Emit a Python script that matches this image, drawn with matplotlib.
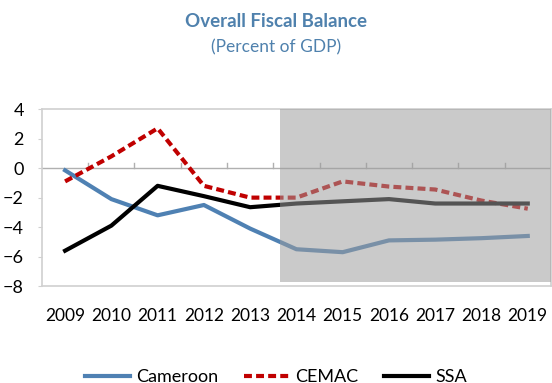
import numpy as np
import matplotlib
matplotlib.use("Agg")
import matplotlib.pyplot as plt
from matplotlib.patches import Rectangle

# --- Data (percent of GDP) ---
years = ["2009", "2010", "2011", "2012", "2013", "2014",
         "2015", "2016", "2017", "2018", "2019"]
cameroon = [-0.15, -2.1, -3.2, -2.5, -4.1, -5.5, -5.7, -4.9, -4.85, -4.75, -4.6]
cemac = [-0.9, 0.8, 2.7, -1.2, -2.0, -2.0, -0.9, -1.25, -1.45, -2.2, -2.75]
ssa = [-5.6, -3.9, -1.2, -1.9, -2.65, -2.4, -2.25, -2.1, -2.4, -2.4, -2.4]

# projection years get a grey shade
shade_start = 4.64
shade_bottom = -7.7

FONT = ["Lato", "DejaVu Sans"]
TITLE_COLOR = "#4F81AD"

plt.rcParams["font.family"] = FONT

fig = plt.figure(figsize=(5.52, 3.83), dpi=100)
ax = fig.add_axes([0.076, 0.253, 0.922, 0.462])

x = np.arange(len(years))
ax.plot(x, cameroon, color="#4F81B3", lw=3, label="Cameroon", zorder=3)
ax.plot(x, cemac, color="#C00000", lw=3, ls=(0, (1.9, 1.0)), label="CEMAC", zorder=3)
ax.plot(x, ssa, color="#000000", lw=3, label="SSA", zorder=3)

ax.add_patch(Rectangle((shade_start, shade_bottom), len(years) - 0.5 - shade_start,
                       4 - shade_bottom, facecolor="#9d9d9d", alpha=0.54,
                       edgecolor="none", zorder=4))

ax.set_xlim(-0.5, len(years) - 0.5)
ax.set_ylim(-8, 4)
ax.set_yticks(np.arange(-8, 5, 2))
ax.set_xticks(x)
ax.set_xticklabels(years)

# zero line with category-boundary ticks
ax.axhline(0, color="#B0B0B0", lw=1, zorder=2)
for b in np.arange(0.5, len(years) - 0.5, 1):
    ax.plot([b, b], [0, 0.35], color="#B0B0B0", lw=1, zorder=2)

for sp in ax.spines.values():
    sp.set_color("#D0D0D0")
    sp.set_linewidth(1.2)
ax.tick_params(axis="x", length=0, pad=15.5, labelsize=12.5)
ax.tick_params(axis="y", length=3, color="#D0D0D0", labelsize=13, pad=10)

fig.text(0.5, 0.945, "Overall Fiscal Balance", ha="center", va="center",
         fontsize=13.5, fontweight="bold", color=TITLE_COLOR)
fig.text(0.5, 0.877, "(Percent of GDP)", ha="center", va="center",
         fontsize=12.5, color=TITLE_COLOR)

leg = fig.legend(loc="center", bbox_to_anchor=(0.5, 0.016), ncol=3,
                 frameon=False, fontsize=13, handlelength=2.5,
                 columnspacing=1.4, handletextpad=0.35)

fig.savefig("out.png", dpi=100)
